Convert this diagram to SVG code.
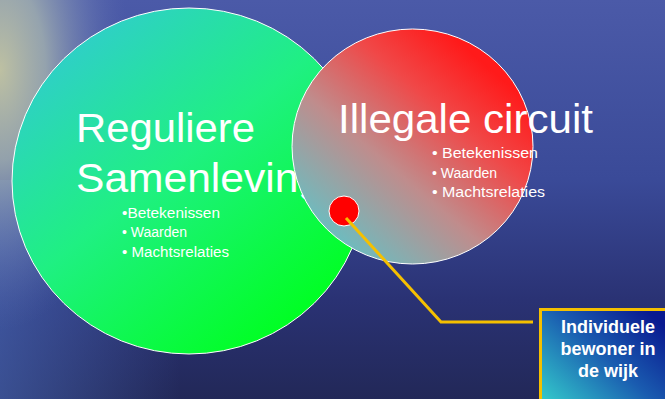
<svg xmlns="http://www.w3.org/2000/svg" width="665" height="399" viewBox="0 0 665 399">
  <defs>
    <linearGradient id="bg" x1="0" y1="0" x2="0" y2="1">
      <stop offset="0" stop-color="#4b5aa8"/>
      <stop offset="0.45" stop-color="#3a4a98"/>
      <stop offset="0.75" stop-color="#2a3274"/>
      <stop offset="1" stop-color="#222858"/>
    </linearGradient>
    <linearGradient id="bgLeft" x1="0" y1="0" x2="1" y2="0">
      <stop offset="0" stop-color="#4a6ab8" stop-opacity="0.6"/>
      <stop offset="1" stop-color="#4a6ab8" stop-opacity="0"/>
    </linearGradient>
    <radialGradient id="glow" gradientUnits="userSpaceOnUse" cx="0" cy="70" r="130" gradientTransform="translate(0 70) scale(1 2) translate(0 -70)">
      <stop offset="0" stop-color="#c4c6a2" stop-opacity="0.95"/>
      <stop offset="0.35" stop-color="#a8b6b0" stop-opacity="0.8"/>
      <stop offset="0.7" stop-color="#8494b8" stop-opacity="0.35"/>
      <stop offset="1" stop-color="#6070b0" stop-opacity="0"/>
    </radialGradient>
    <linearGradient id="green" x1="0.1" y1="0.15" x2="0.75" y2="0.95">
      <stop offset="0" stop-color="#2fcfc8"/>
      <stop offset="0.45" stop-color="#1ff082"/>
      <stop offset="1" stop-color="#00ff22"/>
    </linearGradient>
    <linearGradient id="red" x1="0.1" y1="0.95" x2="0.8" y2="0.15">
      <stop offset="0" stop-color="#58c8cc"/>
      <stop offset="0.45" stop-color="#c08c8c"/>
      <stop offset="0.75" stop-color="#f04848"/>
      <stop offset="1" stop-color="#ff1a1a"/>
    </linearGradient>
    <linearGradient id="box" x1="0" y1="1" x2="1" y2="0.2">
      <stop offset="0" stop-color="#34cccc"/>
      <stop offset="0.55" stop-color="#1a5cb0"/>
      <stop offset="1" stop-color="#0a1a90"/>
    </linearGradient>
    <style>
      .big { font-family: "Liberation Sans", Arial, sans-serif; fill: #ffffff; }
      .bul { font-family: "Liberation Sans", Arial, sans-serif; fill: #ffffff; font-size: 14px; }
      .lbl { font-family: "Liberation Sans", Arial, sans-serif; fill: #ffffff; font-size: 18px; font-weight: bold; text-anchor: middle; }
      .ring { stroke: #ffffff; stroke-width: 1; }
    </style>
  </defs>

  <g id="background">
    <rect x="0" y="0" width="665" height="399" fill="url(#bg)"/>
    <rect x="0" y="180" width="180" height="219" fill="url(#bgLeft)"/>
    <rect x="0" y="0" width="665" height="399" fill="url(#glow)"/>
  </g>

  <g id="regulier">
    <ellipse class="ring" cx="189" cy="181" rx="177" ry="173" fill="url(#green)"/>
    <text class="big" x="76" y="142" font-size="41" textLength="179" lengthAdjust="spacingAndGlyphs">Reguliere</text>
    <text class="big" x="76" y="192" font-size="41" textLength="246" lengthAdjust="spacingAndGlyphs">Samenleving</text>
    <text class="bul" x="122" y="218" textLength="98" lengthAdjust="spacingAndGlyphs">•Betekenissen</text>
    <text class="bul" x="122" y="237">• Waarden</text>
    <text class="bul" x="122" y="257" textLength="107" lengthAdjust="spacingAndGlyphs">• Machtsrelaties</text>
  </g>

  <g id="illegaal">
    <ellipse class="ring" cx="412.5" cy="146.5" rx="120.5" ry="117.5" fill="url(#red)"/>
    <text class="big" x="338" y="133" font-size="41" textLength="255" lengthAdjust="spacingAndGlyphs">Illegale circuit</text>
    <text class="bul" x="432" y="158" textLength="106" lengthAdjust="spacingAndGlyphs">• Betekenissen</text>
    <text class="bul" x="432" y="178">• Waarden</text>
    <text class="bul" x="432" y="197" textLength="113" lengthAdjust="spacingAndGlyphs">• Machtsrelaties</text>
  </g>

  <g id="bewoner-dot">
    <circle class="ring" cx="344" cy="211" r="15" fill="#ff0000"/>
  </g>

  <g id="connectors">
    <polyline points="346,218 441,322 533,322" fill="none" stroke="#f5c000" stroke-width="3" stroke-linejoin="miter"/>
  </g>

  <g id="bewoner-label">
    <rect x="540.5" y="309.5" width="126" height="92" fill="url(#box)" stroke="#f5c000" stroke-width="3"/>
    <text class="lbl" x="608" y="333">Individuele</text>
    <text class="lbl" x="608" y="355">bewoner in</text>
    <text class="lbl" x="608" y="377">de wijk</text>
  </g>
</svg>
